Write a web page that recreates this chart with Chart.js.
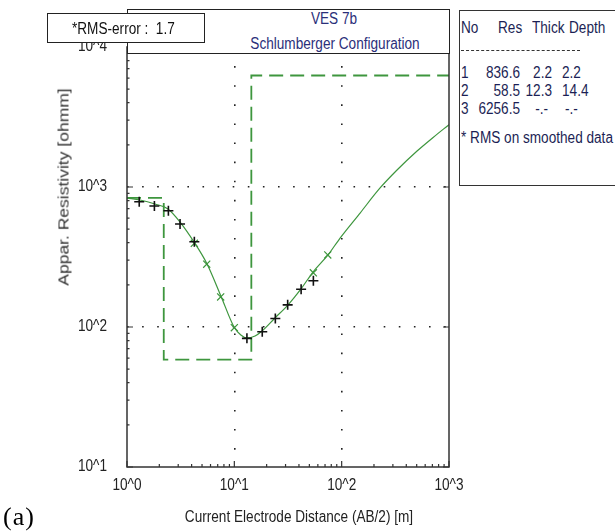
<!DOCTYPE html>
<html>
<head>
<meta charset="utf-8">
<script src="https://cdn.jsdelivr.net/npm/chart.js@4"></script>
<style>
  html, body { margin: 0; padding: 0; background: #fff; }
  #wrap { position: relative; width: 615px; height: 531px; overflow: hidden; font-family: "Liberation Sans", Arial, sans-serif; font-size: 16px; }
  #c { position: absolute; left: 0; top: 0; }
  .box { position: absolute; background: #fff; box-sizing: border-box; }
  .t { position: absolute; white-space: nowrap; line-height: 18px; transform-origin: 0 0; }
  .n { transform: scaleX(0.85); }
  .nr { transform: translateX(-100%) scaleX(0.85); transform-origin: 100% 0; }
  .nc { transform: translateX(-50%) scaleX(0.85); transform-origin: 50% 0; }
</style>
</head>
<body>
<div id="wrap">
  <canvas id="c" width="615" height="531"></canvas>

  <div class="box" style="left:127px; top:9px; width:323px; height:45px; border:1.5px solid #222;"></div>
  <div class="t nc" style="left:334px; top:10px; color:#2b2f7a;">VES 7b</div>
  <div class="t nc" style="left:335px; top:35px; color:#2b2f7a;">Schlumberger Configuration</div>

  <div class="box" style="left:47px; top:13px; width:158px; height:30px; border:1.5px solid #222;"></div>
  <div class="t n" style="left:72px; top:20px; color:#111;">*RMS-error :&nbsp;&nbsp;1.7</div>

  <div class="box" style="left:459px; top:10px; width:170px; height:176px; border:1.5px solid #333;"></div>
  <div id="legend" style="position:absolute; left:0; top:0; color:#1c1f55;"></div>

  <div class="t" style="left:63px; top:187px; transform-origin:50% 50%; transform:translate(-50%,-50%) rotate(-90deg) scaleY(0.85); font-size:17.5px; color:#333;">Appar. Resistivity [ohmm]</div>
  <div class="t nc" style="left:299px; top:508px; color:#222;">Current Electrode Distance (AB/2) [m]</div>

  <div class="t" style="left:3px; top:503px; font-family:'Liberation Serif','Times New Roman',serif; font-size:26px; line-height:28px; letter-spacing:1px; color:#000;">(a)</div>
</div>

<script>
// ---------------- data ----------------
const xTickLabels = ['10^0', '10^1', '10^2', '10^3'];
const yTickLabels = ['10^1', '10^2', '10^3', '10^4'];
const xDecades = [1, 10, 100, 1000];
const yDecades = [10, 100, 1000, 10000];

// model curve (solid green)
const modelAB2 = [1.0, 1.32, 1.82, 2.41, 3.12, 4.21, 5.57, 7.51, 9.94, 11.5, 13.1, 15.6, 18.1, 23.9, 31.7, 41.8, 54.1, 74.6, 96.7, 148.5, 228, 328, 504, 711, 1000];
const modelRho = [834, 807, 756, 697, 562, 405, 282, 166, 100, 87.7, 83.5, 86.3, 93.6, 116, 144, 187, 247, 327, 432, 652, 984, 1322, 1807, 2259, 2790];

// measured data (black +)
const measAB2 = [1.30, 1.80, 2.43, 3.12, 4.24, 13.1, 18.2, 24.1, 31.4, 41.9, 54.5];
const measRho = [785, 731, 677, 544, 406, 83, 92.5, 115, 144, 186, 214];

// smoothed data (green x)
const smoothAB2 = [4.24, 5.53, 7.46, 10.0, 54.5, 74.2];
const smoothRho = [396, 281, 164, 98.9, 244, 327];

// layer model
const layerNo = [1, 2, 3];
const layerRes = [836.6, 58.5, 6256.5];
const layerThick = [2.2, 12.3, null];
const layerDepth = [2.2, 14.4, null];

// ---------------- build ----------------
const GREEN = 'rgb(62,150,62)';
const zip = (xs, ys) => xs.map((x, i) => ({ x: x, y: ys[i] }));

const stepPts = [];
let xStart = xDecades[0];
layerRes.forEach((r, i) => {
  const xEnd = layerDepth[i] != null ? layerDepth[i] : xDecades[xDecades.length - 1];
  stepPts.push({ x: xStart, y: r });
  stepPts.push({ x: xEnd, y: r });
  xStart = xEnd;
});

// legend table (real text)
(function () {
  const L = document.getElementById('legend');
  function put(txt, x, yc, align) {
    const s = document.createElement('div');
    s.className = 't ' + (align === 'r' ? 'nr' : 'n');
    s.textContent = txt;
    s.style.top = (yc - 9) + 'px';
    s.style.left = x + 'px';
    L.appendChild(s);
  }
  put('No', 461, 28); put('Res', 498, 28); put('Thick', 532, 28); put('Depth', 569, 28);
  const d = document.createElement('div');
  d.style.cssText = 'position:absolute; left:461px; top:50px; width:119px; border-top:1.5px dashed #333;';
  L.appendChild(d);
  const rowY = [73, 91, 109];
  layerNo.forEach((n, i) => {
    put(String(n), 461, rowY[i]);
    put(layerRes[i].toFixed(1), 520, rowY[i], 'r');
    put(layerThick[i] != null ? layerThick[i].toFixed(1) : '-.-', layerThick[i] != null ? 552 : 548, rowY[i], 'r');
    put(layerDepth[i] != null ? layerDepth[i].toFixed(1) : '-.-', layerDepth[i] != null ? 562 : 565, rowY[i]);
  });
  put('* RMS on smoothed data', 461, 138);
})();

const labelFont = '16px "Liberation Sans", Arial, sans-serif';

const framePlugin = {
  id: 'frame',
  afterDraw(chart) {
    const { ctx, chartArea: a } = chart;
    const xs = chart.scales.x, ys = chart.scales.y;
    ctx.save();
    ctx.strokeStyle = '#333';
    ctx.lineWidth = 1.5;
    ctx.setLineDash([]);
    ctx.strokeRect(a.left, a.top, a.right - a.left, a.bottom - a.top);
    ctx.lineWidth = 1.2;
    ctx.beginPath();
    xDecades.forEach((d) => {
      for (let k = 1; k <= 9; k++) {
        const v = d * k;
        if (v > xDecades[xDecades.length - 1]) break;
        const px = xs.getPixelForValue(v);
        const len = k === 1 ? 6 : 3;
        ctx.moveTo(px, a.bottom); ctx.lineTo(px, a.bottom - len);
      }
    });
    yDecades.forEach((d) => {
      for (let k = 1; k <= 9; k++) {
        const v = d * k;
        if (v > yDecades[yDecades.length - 1]) break;
        const py = ys.getPixelForValue(v);
        const len = k === 1 ? 6 : 2.5;
        ctx.moveTo(a.left, py); ctx.lineTo(a.left + len, py);
        if (k === 1) { ctx.moveTo(a.right, py); ctx.lineTo(a.right - 6, py); }
      }
    });
    ctx.stroke();

    // tick labels, placed by the scales
    ctx.fillStyle = '#222';
    ctx.font = labelFont;
    ctx.textBaseline = 'middle';
    xDecades.forEach((d, i) => {
      const px = xs.getPixelForValue(d);
      ctx.save();
      ctx.translate(px, a.bottom + 19);
      ctx.scale(0.85, 1);
      ctx.textAlign = 'center';
      ctx.fillText(xTickLabels[i], 0, 0);
      ctx.restore();
    });
    yDecades.forEach((d, i) => {
      const py = ys.getPixelForValue(d);
      ctx.save();
      ctx.translate(a.left - 20, py);
      ctx.scale(0.85, 1);
      ctx.textAlign = 'right';
      ctx.fillText(yTickLabels[i], 0, 0);
      ctx.restore();
    });
    ctx.restore();
  }
};

new Chart(document.getElementById('c'), {
  type: 'scatter',
  data: {
    datasets: [
      { label: 'model', data: zip(modelAB2, modelRho), showLine: true, borderColor: GREEN, borderWidth: 1.2, pointRadius: 0, cubicInterpolationMode: 'monotone', order: 3 },
      { label: 'layers', data: stepPts, showLine: true, borderColor: GREEN, borderWidth: 1.8, borderDash: [14, 7], pointRadius: 0, tension: 0, order: 4 },
      { label: 'smoothed', data: zip(smoothAB2, smoothRho), showLine: false, pointStyle: 'crossRot', pointRadius: 5, borderColor: GREEN, borderWidth: 1.2, backgroundColor: GREEN, order: 2 },
      { label: 'measured', data: zip(measAB2, measRho), showLine: false, pointStyle: 'cross', pointRadius: 5, borderColor: '#111', borderWidth: 1.6, backgroundColor: '#111', order: 1 }
    ]
  },
  options: {
    responsive: false,
    animation: false,
    devicePixelRatio: 1,
    layout: { padding: { left: 0, right: 166, top: 47, bottom: 0 } },
    plugins: { legend: { display: false }, tooltip: { enabled: false }, title: { display: false } },
    scales: {
      x: {
        type: 'logarithmic', min: xDecades[0], max: xDecades[xDecades.length - 1],
        afterBuildTicks: (s) => { s.ticks = xDecades.map(v => ({ value: v, major: true })); },
        afterFit: (s) => { s.height = 64; },
        ticks: { display: false },
        grid: { drawTicks: false, lineWidth: 1.6, color: (c) => (c.tick && (c.tick.value === xDecades[0] || c.tick.value === xDecades[xDecades.length - 1])) ? 'rgba(0,0,0,0)' : '#222' },
        border: { display: false, dash: [1.6, 17.5] }
      },
      y: {
        type: 'logarithmic', min: yDecades[0], max: yDecades[yDecades.length - 1],
        afterBuildTicks: (s) => { s.ticks = yDecades.map(v => ({ value: v, major: true })); },
        afterFit: (s) => { s.width = 127; },
        ticks: { display: false },
        grid: { drawTicks: false, lineWidth: 1.6, color: (c) => (c.tick && (c.tick.value === yDecades[0] || c.tick.value === yDecades[yDecades.length - 1])) ? 'rgba(0,0,0,0)' : '#222' },
        border: { display: false, dash: [1.6, 13.5] }
      }
    }
  },
  plugins: [framePlugin]
});
</script>
</body>
</html>
